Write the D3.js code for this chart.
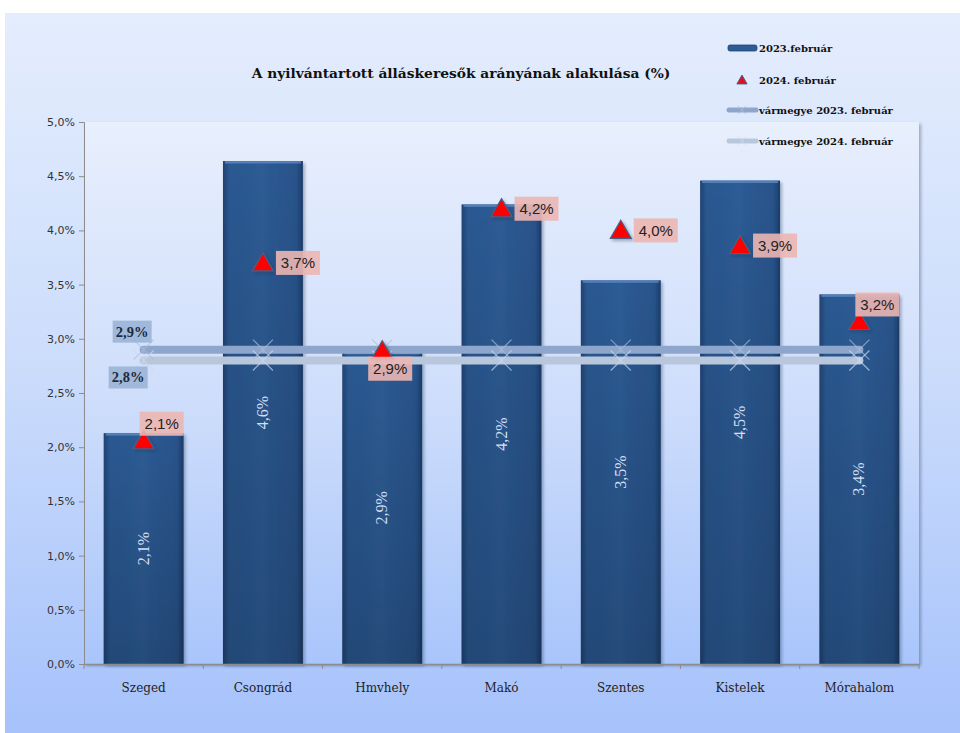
<!DOCTYPE html>
<html>
<head>
  <meta charset="UTF-8">
  <title>Álláskeresők aránya</title>
  <script src="https://d3js.org/d3.v7.min.js"></script>
  <style>
    body { margin: 0; background: #fff; }
  </style>
</head>
<body>
  <svg width="960" height="733"></svg>

  <script>
    // adatok
    const categories = ["Szeged", "Csongrád", "Hmvhely", "Makó", "Szentes", "Kistelek", "Mórahalom"];
    const values2023 = [2.13, 4.64, 2.88, 4.24, 3.54, 4.46, 3.41];
    const values2024 = [2.06, 3.70, 2.89, 4.20, 4.00, 3.86, 3.16];
    const county2023 = 2.9;
    const county2024 = 2.8;
    const yTicks = [0, 0.5, 1, 1.5, 2, 2.5, 3, 3.5, 4, 4.5, 5];
    const labelPlacement = ["upright", "right", "below", "right", "right", "right", "upright"];

    const fmt = v => d3.format(".1f")(v).replace(".", ",") + "%";

    const svg = d3.select("svg");
    const defs = svg.append("defs");

    const bgGrad = defs.append("linearGradient").attr("id", "bg")
      .attr("x1", 0).attr("y1", 0).attr("x2", 0).attr("y2", 1);
    bgGrad.append("stop").attr("offset", 0).attr("stop-color", "#e4edfd");
    bgGrad.append("stop").attr("offset", 0.5).attr("stop-color", "#cbdcfb");
    bgGrad.append("stop").attr("offset", 1).attr("stop-color", "#a6c2fb");

    const plotGrad = defs.append("linearGradient").attr("id", "plotbg")
      .attr("x1", 0).attr("y1", 0).attr("x2", 0).attr("y2", 1);
    plotGrad.append("stop").attr("offset", 0).attr("stop-color", "#e8effd");
    plotGrad.append("stop").attr("offset", 0.5).attr("stop-color", "#cfdefb");
    plotGrad.append("stop").attr("offset", 1).attr("stop-color", "#a9c5fb");

    const barGrad = defs.append("linearGradient").attr("id", "bar")
      .attr("x1", 0).attr("y1", 0).attr("x2", 1).attr("y2", 0);
    barGrad.append("stop").attr("offset", 0).attr("stop-color", "#1e4273");
    barGrad.append("stop").attr("offset", 0.08).attr("stop-color", "#2b5890");
    barGrad.append("stop").attr("offset", 0.5).attr("stop-color", "#2d5b94");
    barGrad.append("stop").attr("offset", 0.92).attr("stop-color", "#28538a");
    barGrad.append("stop").attr("offset", 1).attr("stop-color", "#1b3c6a");

    const barShade = defs.append("linearGradient").attr("id", "barshade")
      .attr("x1", 0).attr("y1", 0).attr("x2", 0).attr("y2", 1);
    barShade.append("stop").attr("offset", 0).attr("stop-color", "#000").attr("stop-opacity", 0);
    barShade.append("stop").attr("offset", 1).attr("stop-color", "#000").attr("stop-opacity", 0.18);

    const shadow = defs.append("filter").attr("id", "shadow")
      .attr("x", "-20%").attr("y", "-20%").attr("width", "150%").attr("height", "150%");
    shadow.append("feDropShadow").attr("dx", 2).attr("dy", 2).attr("stdDeviation", 1.5)
      .attr("flood-color", "#203050").attr("flood-opacity", 0.35);

    // háttér
    svg.append("rect").attr("x", 5).attr("y", 13).attr("width", 955).attr("height", 720)
      .attr("fill", "url(#bg)");

    const margin = { left: 84, right: 919, top: 122, bottom: 664 };

    svg.append("rect")
      .attr("x", margin.left).attr("y", margin.top)
      .attr("width", margin.right - margin.left).attr("height", margin.bottom - margin.top)
      .attr("fill", "url(#plotbg)")
      .attr("filter", "url(#shadow)");

    const x = d3.scaleBand().domain(categories).range([margin.left, margin.right])
      .paddingInner(0.33).paddingOuter(0.165);
    const y = d3.scaleLinear().domain([0, 5]).range([margin.bottom, margin.top]);
    const xc = d => x(d) + x.bandwidth() / 2;

    // tengelyek
    const yAxis = svg.append("g")
      .attr("transform", `translate(${margin.left},0)`)
      .call(d3.axisLeft(y).tickValues(yTicks).tickSize(5).tickFormat(fmt));
    yAxis.select(".domain").attr("stroke", "#8c8c8c");
    yAxis.selectAll(".tick line").attr("stroke", "#8c8c8c");
    yAxis.selectAll("text")
      .attr("font-family", "DejaVu Sans, Verdana, sans-serif")
      .attr("font-size", 11).attr("fill", "#333").attr("x", -9);

    // oszlopok
    const bars = svg.append("g").selectAll("g")
      .data(categories.map((c, i) => ({ c, v: values2023[i] })))
      .join("g");
    bars.append("rect")
      .attr("x", d => x(d.c)).attr("y", d => y(d.v))
      .attr("width", x.bandwidth()).attr("height", d => y(0) - y(d.v))
      .attr("fill", "url(#bar)")
      .attr("filter", "url(#shadow)");
    bars.append("rect")
      .attr("x", d => x(d.c)).attr("y", d => y(d.v))
      .attr("width", x.bandwidth()).attr("height", d => y(0) - y(d.v))
      .attr("fill", "url(#barshade)");
    bars.append("rect")
      .attr("x", d => x(d.c) + 2).attr("y", d => y(d.v))
      .attr("width", x.bandwidth() - 4).attr("height", 2.5)
      .attr("fill", "#5f88c0").attr("opacity", 0.8);
    bars.append("text")
      .attr("transform", d => `translate(${xc(d.c) + 5},${(y(d.v) + y(0)) / 2}) rotate(-90)`)
      .attr("text-anchor", "middle")
      .attr("font-family", "Liberation Serif, serif")
      .attr("font-size", 16)
      .attr("fill", "#d3def2")
      .text(d => fmt(d.v));

    const xAxis = svg.append("g")
      .attr("transform", `translate(0,${margin.bottom})`)
      .call(d3.axisBottom(x).tickSize(0).tickFormat(d => d));
    xAxis.select(".domain").attr("stroke", "#8c8c8c").attr("stroke-width", 1.5);
    xAxis.selectAll(".tick text")
      .attr("font-family", "DejaVu Serif, serif")
      .attr("font-size", 12).attr("fill", "#222").attr("dy", "2.05em");
    svg.append("g").selectAll("line")
      .data(d3.range(categories.length + 1))
      .join("line")
      .attr("x1", i => margin.left + i * x.step())
      .attr("x2", i => margin.left + i * x.step())
      .attr("y1", margin.bottom).attr("y2", margin.bottom + 5)
      .attr("stroke", "#8c8c8c");

    // vármegye vonalak
    const countySeries = [
      { v: county2023, color: "#8ea6cb", mark: "#a9bcdb" },
      { v: county2024, color: "#b9c7dd", mark: "#cdd8ea" }
    ];
    const first = xc(categories[0]), last = xc(categories[categories.length - 1]);
    countySeries.forEach(s => {
      svg.append("line")
        .attr("x1", first).attr("x2", last)
        .attr("y1", y(s.v)).attr("y2", y(s.v))
        .attr("stroke", s.color).attr("stroke-width", 8)
        .attr("stroke-linecap", "round");
    });
    countySeries.forEach(s => {
      const g = svg.append("g").selectAll("g").data(categories).join("g")
        .attr("transform", d => `translate(${xc(d)},${y(s.v)})`)
        .attr("stroke", s.mark).attr("stroke-width", 1.2).attr("opacity", 0.7);
      g.append("line").attr("x1", -10).attr("y1", -10).attr("x2", 10).attr("y2", 10);
      g.append("line").attr("x1", -10).attr("y1", 10).attr("x2", 10).attr("y2", -10);
      g.append("line").attr("x1", 0).attr("y1", -3).attr("x2", 0).attr("y2", 3);
    });

    // vármegye címkék
    const cl = svg.append("g");
    [[county2023, -7 - 22, -31], [county2024, 6, -35]].forEach(([v, dy, dx]) => {
      cl.append("rect")
        .attr("x", first + dx).attr("y", y(v) + dy)
        .attr("width", 39).attr("height", 22)
        .attr("fill", "#9ab4d6").attr("opacity", 0.9);
      cl.append("text")
        .attr("x", first + dx + 19.5).attr("y", y(v) + dy + 16)
        .attr("text-anchor", "middle")
        .attr("font-family", "Liberation Serif, serif")
        .attr("font-weight", "bold").attr("font-size", 14.5)
        .attr("fill", "#1d2a40")
        .text(fmt(v));
    });

    // 2024 háromszögek
    const tri = d3.symbol().type(d3.symbolTriangle).size(190);
    const pts = categories.map((c, i) => ({ c, v: values2024[i], p: labelPlacement[i] }));
    svg.append("g").selectAll("path").data(pts).join("path")
      .attr("d", tri)
      .attr("transform", d => `translate(${xc(d.c)},${y(d.v) + 2})`)
      .attr("fill", "#ff0000")
      .attr("stroke", "#4b5f86").attr("stroke-width", 1.2)
      .attr("filter", "url(#shadow)");

    const bw = 44, bh = 24;
    const boxPos = d => {
      const cx = xc(d.c), cy = y(d.v);
      if (d.p === "right") return [cx + 13, cy - bh / 2];
      if (d.p === "below") return [cx - 14, cy + 6];
      return [cx - 4, cy - bh - 5];
    };
    const lab = svg.append("g").selectAll("g").data(pts).join("g")
      .attr("transform", d => `translate(${boxPos(d)})`);
    lab.append("rect").attr("width", bw).attr("height", bh)
      .attr("fill", "#ecb6b2").attr("opacity", 0.9);
    lab.append("text")
      .attr("x", bw / 2).attr("y", 17.5)
      .attr("text-anchor", "middle")
      .attr("font-family", "Liberation Sans, Arial, sans-serif")
      .attr("font-size", 15).attr("fill", "#222")
      .text(d => fmt(d.v));

    // cím
    svg.append("text")
      .attr("x", 461).attr("y", 78)
      .attr("text-anchor", "middle")
      .attr("font-family", "DejaVu Serif, serif")
      .attr("font-weight", "bold").attr("font-size", 13.8)
      .attr("fill", "#111")
      .text("A nyilvántartott álláskeresők arányának alakulása (%)");

    // jelmagyarázat
    const legend = svg.append("g")
      .attr("font-family", "DejaVu Serif, serif")
      .attr("font-weight", "bold").attr("font-size", 10)
      .attr("fill", "#111");
    const legendItems = ["2023.február", "2024. február", "vármegye 2023. február", "vármegye 2024. február"];
    const ly = [48, 80, 110, 141];
    legendItems.forEach((t, i) => {
      legend.append("text").attr("x", 759).attr("y", ly[i] + 4).text(t);
    });
    legend.append("rect").attr("x", 728).attr("y", ly[0] - 3).attr("width", 29).attr("height", 6)
      .attr("rx", 2).attr("fill", "#2d5b94").attr("stroke", "#1e4273").attr("stroke-width", 0.8);
    legend.append("path").attr("d", d3.symbol().type(d3.symbolTriangle).size(45))
      .attr("transform", `translate(742,${ly[1] + 1})`)
      .attr("fill", "#e01020").attr("stroke", "#4b5f86").attr("stroke-width", 1);
    [[ly[2], "#8ea6cb", "#a9bcdb"], [ly[3], "#b9c7dd", "#cdd8ea"]].forEach(([yy, c, m]) => {
      legend.append("line").attr("x1", 729).attr("x2", 756).attr("y1", yy).attr("y2", yy)
        .attr("stroke", c).attr("stroke-width", 5).attr("stroke-linecap", "round");
      const g = legend.append("g").attr("transform", `translate(742,${yy})`)
        .attr("stroke", m).attr("stroke-width", 1).attr("opacity", 0.8);
      g.append("line").attr("x1", -4).attr("y1", -4).attr("x2", 4).attr("y2", 4);
      g.append("line").attr("x1", -4).attr("y1", 4).attr("x2", 4).attr("y2", -4);
    });
  </script>
</body>
</html>
